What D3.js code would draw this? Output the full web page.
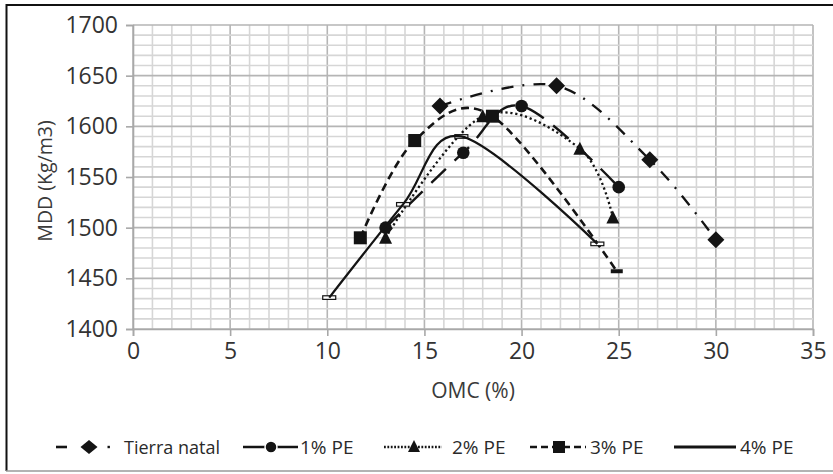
<!DOCTYPE html>
<html><head><meta charset="utf-8">
<script src="https://cdn.jsdelivr.net/npm/d3@7"></script>
<style>
html,body{margin:0;padding:0;background:#fff;}
svg text{font-family:"Open Sans","Noto Sans",sans-serif;}
</style>
</head><body>
<svg id="chart" width="833" height="474"></svg>
<script>
// ---- data ----
const xTicks = [0,5,10,15,20,25,30,35];
const yTicks = [1400,1450,1500,1550,1600,1650,1700];
const seriesNames = ["Tierra natal","1% PE","2% PE","3% PE","4% PE"];
const tnX = [15.8,21.8,26.6,30.0];
const tnY = [1620,1640,1567,1488];
const p1X = [13,17,20,25];
const p1Y = [1500,1574,1620,1540];
const p2X = [13,18,23,24.7];
const p2Y = [1490,1610,1578,1510];
const p3X = [11.7,14.5,18.5,24.9];
const p3Y = [1490,1586,1610,1457];
const p4X = [10.1,13.9,16.9,23.9];
const p4Y = [1431,1523,1590,1484];
const xTitle = "OMC (%)";
const yTitle = "MDD (Kg/m3)";

// ---- drawing ----
const svg = d3.select("#chart");
svg.append("rect").attr("width",833).attr("height",474).attr("fill","#fff");

const xs = d3.scaleLinear().domain([0,35]).range([133,813]);
const ys = d3.scaleLinear().domain([1400,1700]).range([329,25]);

// frame
svg.append("line").attr("x1",6).attr("x2",833).attr("y1",5).attr("y2",5).attr("stroke","#111").attr("stroke-width",2);
svg.append("line").attr("x1",6.5).attr("x2",6.5).attr("y1",4).attr("y2",471).attr("stroke","#111").attr("stroke-width",2);
svg.append("line").attr("x1",6).attr("x2",833).attr("y1",471).attr("y2",471).attr("stroke","#9a9a9a").attr("stroke-width",1.5);

// grid
const g = svg.append("g");
const minorX = d3.range(0,35.001,1);
const minorY = d3.range(1400,1700.001,10);
g.selectAll(".mx").data(minorX).join("line")
  .attr("x1",d=>xs(d)).attr("x2",d=>xs(d)).attr("y1",ys(1400)).attr("y2",ys(1700))
  .attr("stroke",d=>d%5===0?"#b5b5b5":"#d6d6d6").attr("stroke-width",1.6);
g.selectAll(".my").data(minorY).join("line")
  .attr("y1",d=>ys(d)).attr("y2",d=>ys(d)).attr("x1",xs(0)).attr("x2",xs(35))
  .attr("stroke",d=>d%50===0?"#b5b5b5":"#d6d6d6").attr("stroke-width",1.6);

// axes
const yAxis = svg.append("g").attr("transform",`translate(${xs(0)},0)`)
  .call(d3.axisLeft(ys).tickValues(yTicks).tickSize(7).tickPadding(8).tickFormat(d3.format("d")));
const xAxis = svg.append("g").attr("transform",`translate(0,${ys(1400)})`)
  .call(d3.axisBottom(xs).tickValues(xTicks).tickSize(7).tickPadding(7).tickFormat(d3.format("d")));
[yAxis,xAxis].forEach(a=>{
  a.select(".domain").attr("stroke","#a8a8a8").attr("stroke-width",1.6);
  a.selectAll(".tick line").attr("stroke","#a8a8a8").attr("stroke-width",1.6);
  a.selectAll(".tick text").attr("fill","#333").style("font-size","23px").style("font-family","'Open Sans'");
});

// titles
svg.append("text").attr("x",xs(17.5)).attr("y",398).attr("text-anchor","middle")
  .attr("fill","#3a3a3a").style("font-size","21px").text(xTitle);
svg.append("text").attr("transform","translate(52,181) rotate(-90)").attr("text-anchor","middle")
  .attr("fill","#3a3a3a").style("font-size","19.5px").text(yTitle);

// series
const ink = "#141414";
const curve = d3.curveCardinal.tension(0);
const lineGen = d3.line().x(d=>xs(d[0])).y(d=>ys(d[1])).curve(curve);
const styles = [
  {dash:"12,9,2,9", w:2.3},
  {dash:"20,12", w:2.4},
  {dash:"2.2,2.8", w:2.3},
  {dash:"8,5", w:2.6},
  {dash:null, w:2.3}
];
const seriesX = [tnX,p1X,p2X,p3X,p4X];
const seriesY = [tnY,p1Y,p2Y,p3Y,p4Y];

function marker(sel, type, x, y, isLast){
  if(type===0){
    const s=8.5;
    sel.append("path").attr("d",`M${x},${y-s}L${x+s},${y}L${x},${y+s}L${x-s},${y}Z`).attr("fill",ink);
  } else if(type===1){
    sel.append("circle").attr("cx",x).attr("cy",y).attr("r",6.3).attr("fill",ink);
  } else if(type===2){
    sel.append("path").attr("d",`M${x},${y-7}L${x+6.5},${y+6}L${x-6.5},${y+6}Z`).attr("fill",ink);
  } else if(type===3){
    if(isLast) sel.append("rect").attr("x",x-6).attr("y",y-2).attr("width",12).attr("height",4).attr("fill",ink);
    else sel.append("rect").attr("x",x-6.5).attr("y",y-6.5).attr("width",13).attr("height",13).attr("fill",ink);
  } else if(type===4){
    sel.append("rect").attr("x",x-6.5).attr("y",y-1.8).attr("width",13).attr("height",3.6)
      .attr("fill","#fff").attr("stroke",ink).attr("stroke-width",1.2);
  }
}

seriesX.forEach((sx,i)=>{
  const pts = sx.map((x,j)=>[x,seriesY[i][j]]);
  const grp = svg.append("g");
  const lineLayer = grp.append("g");
  const markLayer = grp.append("g");
  const p = lineLayer.append("path").attr("d",lineGen(pts)).attr("fill","none")
    .attr("stroke",ink).attr("stroke-width",styles[i].w);
  if(styles[i].dash) p.attr("stroke-dasharray",styles[i].dash);
  pts.forEach((d,j)=>marker(markLayer,i,xs(d[0]),ys(d[1]),j===pts.length-1));
  if(i===4) markLayer.lower(); // line drawn over the hollow dash markers
});

// legend
const ly = 447;
const leg = svg.append("g");
const legItems = [
  {a:56,b:112,m:89,t:124},
  {a:243,b:298,m:271,t:300},
  {a:384,b:442,m:414,t:452},
  {a:530,b:586,m:559,t:590},
  {a:674,b:736,m:705,t:740}
];
legItems.forEach((it,i)=>{
  if(i===0){
    leg.append("line").attr("x1",56).attr("x2",67).attr("y1",ly).attr("y2",ly).attr("stroke",ink).attr("stroke-width",2.6);
    leg.append("rect").attr("x",107.5).attr("y",ly-1.2).attr("width",2.4).attr("height",2.4).attr("fill",ink);
    const s=7;
    leg.append("path").attr("d",`M${it.m},${ly-s}L${it.m+s+1.5},${ly}L${it.m},${ly+s}L${it.m-s-1.5},${ly}Z`).attr("fill",ink);
  } else {
    const l = leg.append("line").attr("x1",it.a).attr("x2",it.b).attr("y1",ly).attr("y2",ly)
      .attr("stroke",ink).attr("stroke-width",i===4?2.8:2.6);
    if(i===2) l.attr("stroke-dasharray","1.8,1.6");
    if(i===3) l.attr("stroke-dasharray","7,4");
    if(i===1){
      leg.append("circle").attr("cx",it.m).attr("cy",ly).attr("r",6).attr("fill",ink).attr("stroke","#fff").attr("stroke-width",1.5);
    } else if(i===2){
      leg.append("path").attr("d",`M${it.m},${ly-7}L${it.m+6},${ly+5}L${it.m-6},${ly+5}Z`).attr("fill",ink);
    } else if(i===3){
      leg.append("rect").attr("x",it.m-6).attr("y",ly-6).attr("width",12).attr("height",12).attr("fill",ink);
    }
  }
  const t = leg.append("text").attr("x",it.t).attr("y",ly+6.5).attr("fill","#2a2a2a")
    .style("font-size","19px").text(seriesNames[i]);
  if(i===0) t.attr("textLength",96).attr("lengthAdjust","spacingAndGlyphs");
});
</script>
</body></html>
